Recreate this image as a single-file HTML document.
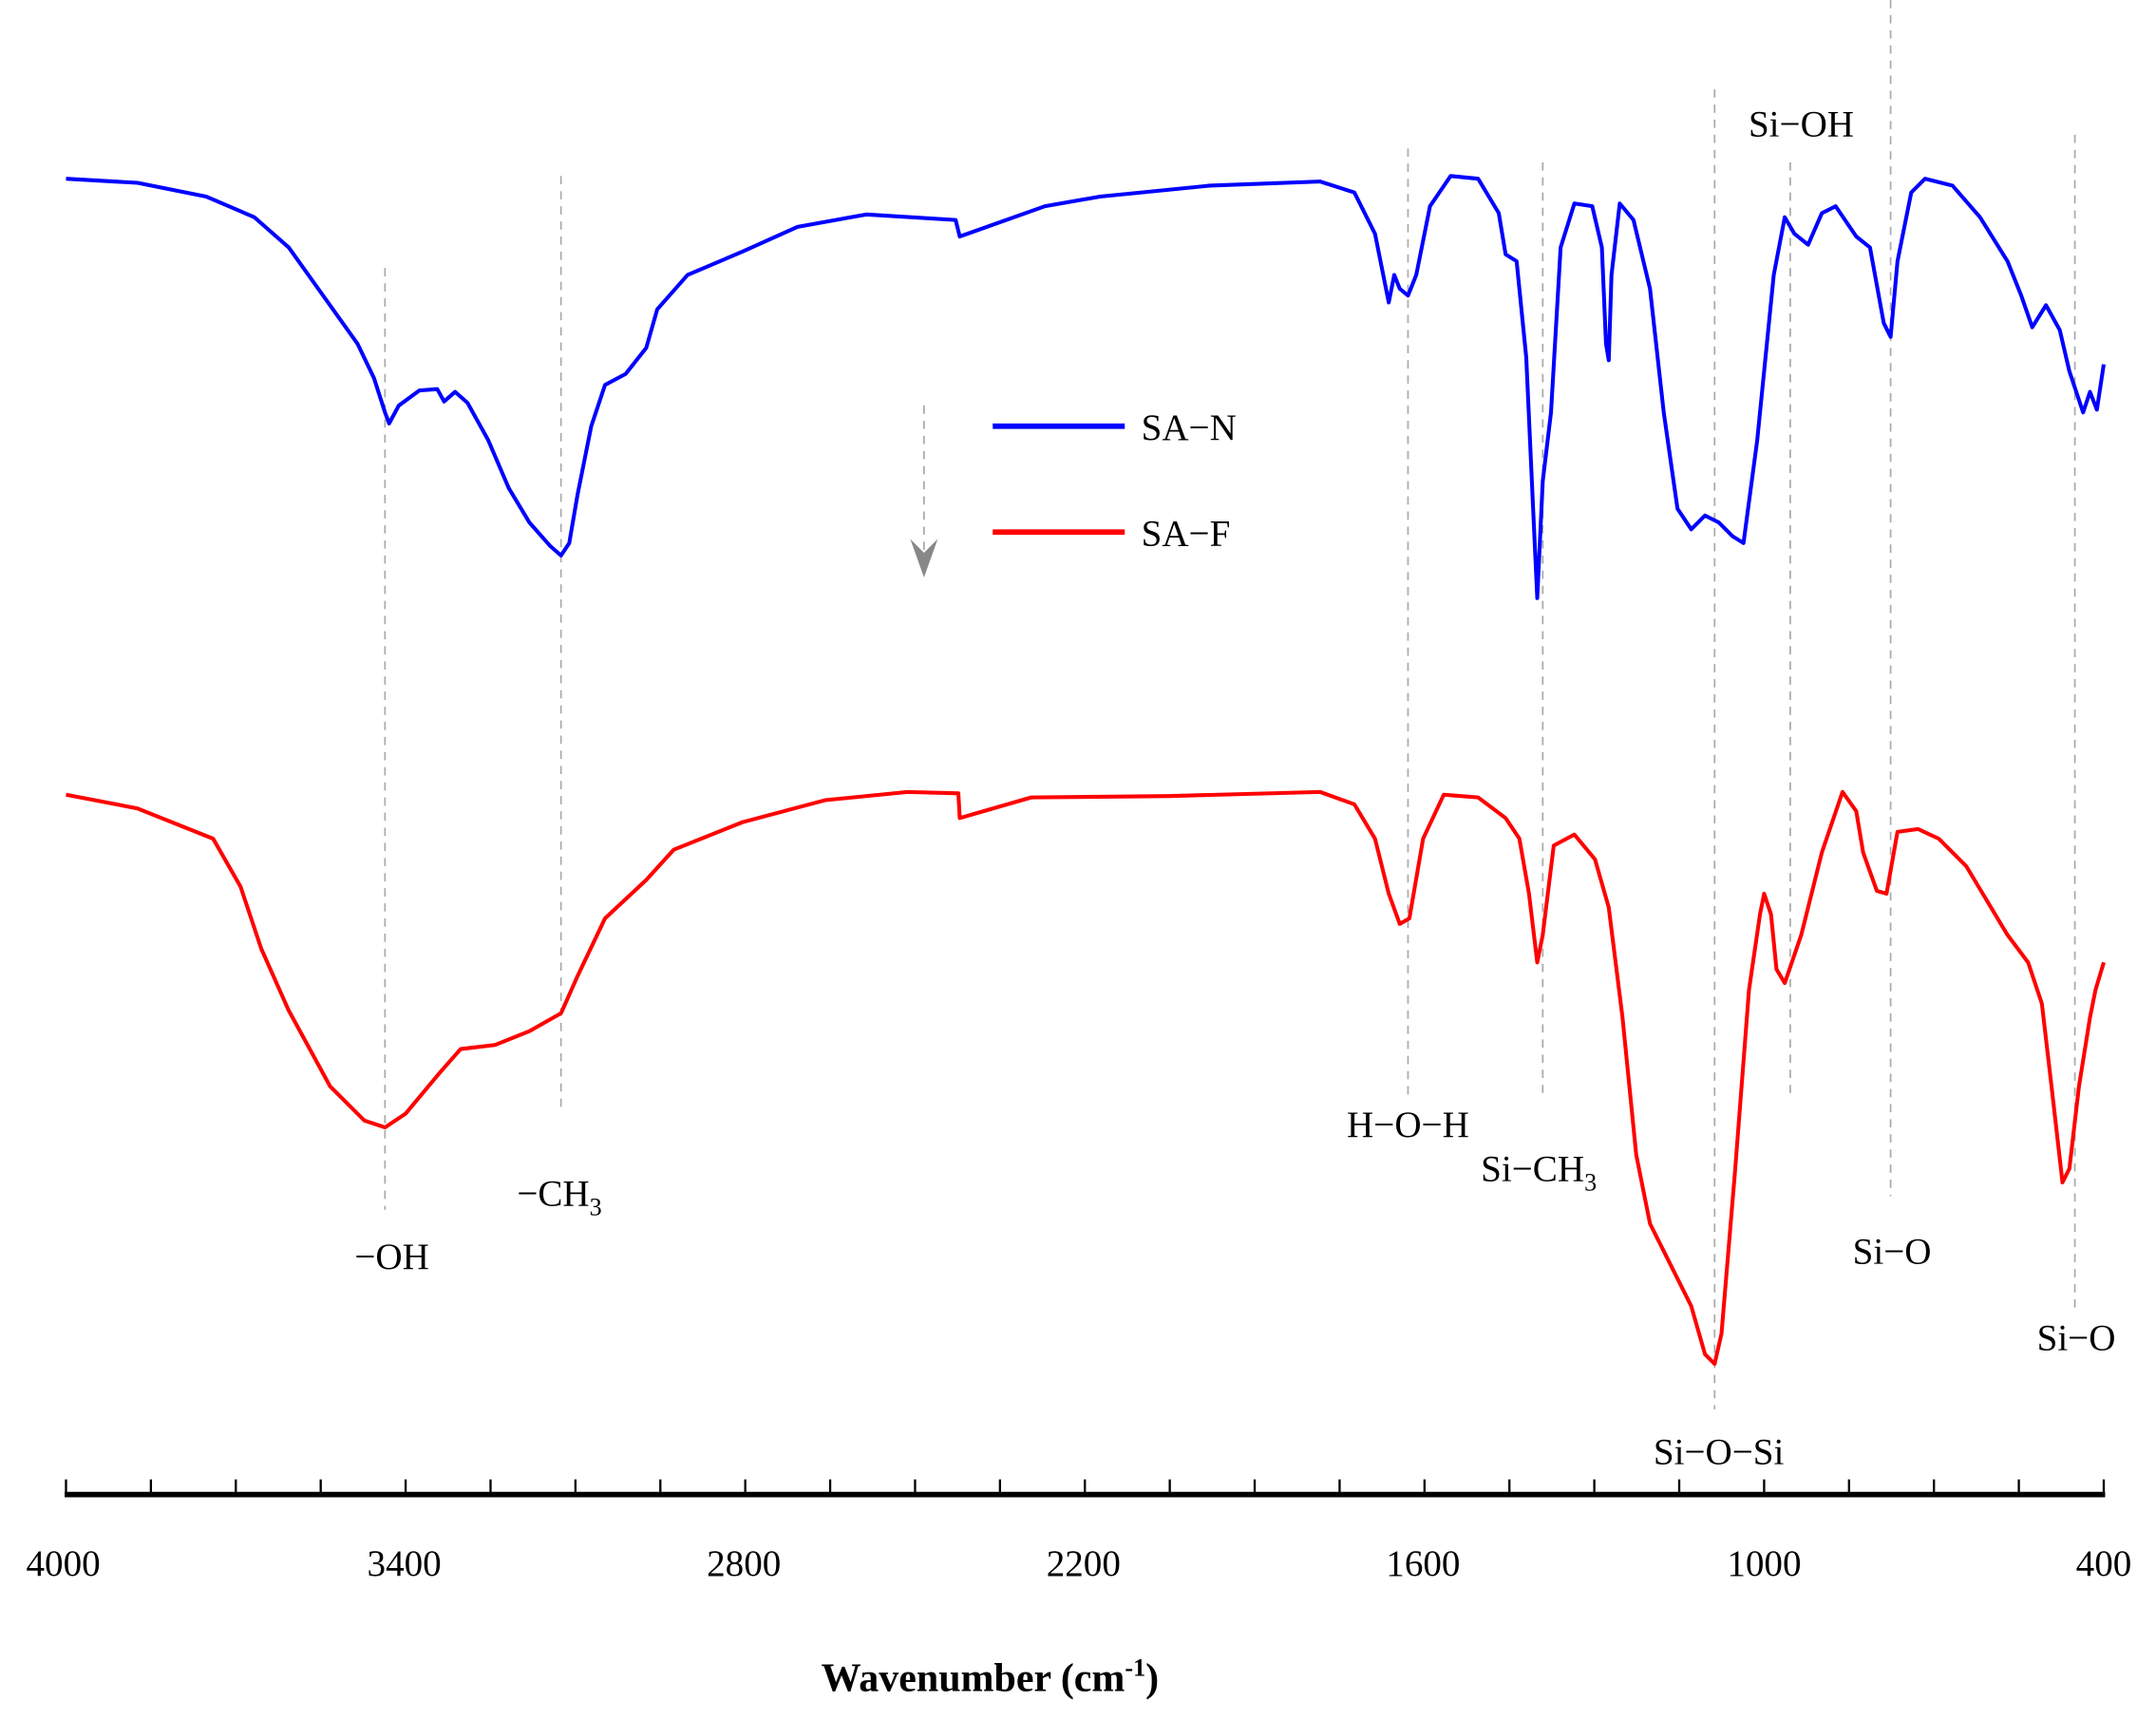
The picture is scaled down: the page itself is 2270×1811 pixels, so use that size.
<!DOCTYPE html>
<html><head><meta charset="utf-8"><style>html,body{margin:0;padding:0;background:#fff}svg{display:block}</style></head>
<body>
<svg width="2270" height="1811" viewBox="0 0 1568 1251" preserveAspectRatio="none" xmlns="http://www.w3.org/2000/svg" font-family="'Liberation Serif',serif">
<g stroke="#aaa" stroke-width="1.2" stroke-dasharray="6,5">
<line x1="280" y1="195" x2="280" y2="880"/>
<line x1="408" y1="128" x2="408" y2="810"/>
<line x1="1024" y1="108" x2="1024" y2="800"/>
<line x1="1122" y1="118" x2="1122" y2="800"/>
<line x1="1247" y1="65" x2="1247" y2="1025"/>
<line x1="1302" y1="118" x2="1302" y2="800"/>
<line x1="1375" y1="0" x2="1375" y2="870"/>
<line x1="1509" y1="98" x2="1509" y2="955"/>
<line x1="672" y1="295" x2="672" y2="400"/>
</g>
<path d="M662,392 L672,420 L682,392 L672,402 Z" fill="#888"/>
<polyline fill="none" stroke="#0000ff" stroke-width="2.8" stroke-linejoin="round" points="48,130 100,133 150,143 185,158 210,180 235,215 260,250 272,275 280,300 283,308 290,295 305,284 318,283 323,292 331,285 340,293 355,320 370,355 385,380 400,397 408,404 414,395 420,360 430,310 440,280 455,272 470,253 478,225 500,200 540,183 580,165 630,156 695,160 698,172 760,150 800,143 880,135 960,132 985,140 1000,170 1010,220 1014,200 1018,210 1024,215 1030,200 1040,150 1055,128 1075,130 1090,155 1095,185 1103,190 1110,260 1115,370 1118,435 1122,350 1128,300 1135,180 1145,148 1158,150 1165,180 1168,250 1170,262 1172,200 1178,148 1188,160 1200,210 1210,300 1220,370 1230,385 1240,375 1250,380 1260,390 1268,395 1278,320 1290,200 1298,158 1305,170 1315,178 1325,155 1335,150 1350,172 1360,180 1370,235 1375,245 1380,190 1390,140 1400,130 1420,135 1440,158 1460,190 1470,215 1478,238 1488,222 1498,240 1505,270 1515,300 1520,285 1525,298 1530,265"/>
<polyline fill="none" stroke="#ff0000" stroke-width="2.8" stroke-linejoin="round" points="48,578 100,588 155,610 175,645 190,690 210,735 240,790 265,815 280,820 295,810 320,780 335,763 360,760 385,750 408,737 420,710 440,668 470,640 490,618 540,598 600,582 660,576 697,577 698,595 750,580 850,579 960,576 985,585 1000,610 1010,650 1018,672 1025,668 1035,610 1050,578 1075,580 1095,595 1105,610 1112,650 1118,700 1122,680 1130,615 1145,607 1160,625 1170,660 1180,740 1190,840 1200,890 1215,920 1230,950 1240,985 1247,992 1252,970 1262,850 1272,720 1280,665 1283,650 1288,665 1292,705 1298,715 1310,680 1325,620 1340,576 1350,590 1355,620 1365,648 1372,650 1380,605 1395,603 1410,610 1430,630 1460,680 1475,700 1485,730 1492,790 1500,860 1505,850 1512,790 1520,740 1524,720 1530,700"/>
<line x1="722" y1="310" x2="818" y2="310" stroke="#0000ff" stroke-width="4"/>
<line x1="722" y1="387" x2="818" y2="387" stroke="#ff0000" stroke-width="4"/>
<g font-size="27" fill="#000">
<text x="830" y="320">SA−N</text>
<text x="830" y="397">SA−F</text>
<text x="285" y="923" text-anchor="middle">−OH</text>
<text x="376" y="877">−CH<tspan font-size="18" dy="7">3</tspan></text>
<text x="1024" y="827" text-anchor="middle">H−O−H</text>
<text x="1077" y="859">Si−CH<tspan font-size="18" dy="7">3</tspan></text>
<text x="1250" y="1065" text-anchor="middle">Si−O−Si</text>
<text x="1310" y="99" text-anchor="middle">Si−OH</text>
<text x="1376" y="919" text-anchor="middle">Si−O</text>
<text x="1510" y="982" text-anchor="middle">Si−O</text>
</g>
<line x1="47" y1="1087" x2="1531" y2="1087" stroke="#000" stroke-width="4"/>
<g stroke="#000" stroke-width="1.6">
<line x1="48" y1="1076" x2="48" y2="1087"/><line x1="109.75" y1="1076" x2="109.75" y2="1087"/><line x1="171.5" y1="1076" x2="171.5" y2="1087"/><line x1="233.25" y1="1076" x2="233.25" y2="1087"/><line x1="295" y1="1076" x2="295" y2="1087"/><line x1="356.75" y1="1076" x2="356.75" y2="1087"/><line x1="418.5" y1="1076" x2="418.5" y2="1087"/><line x1="480.25" y1="1076" x2="480.25" y2="1087"/><line x1="542" y1="1076" x2="542" y2="1087"/><line x1="603.75" y1="1076" x2="603.75" y2="1087"/><line x1="665.5" y1="1076" x2="665.5" y2="1087"/><line x1="727.25" y1="1076" x2="727.25" y2="1087"/><line x1="789" y1="1076" x2="789" y2="1087"/><line x1="850.75" y1="1076" x2="850.75" y2="1087"/><line x1="912.5" y1="1076" x2="912.5" y2="1087"/><line x1="974.25" y1="1076" x2="974.25" y2="1087"/><line x1="1036" y1="1076" x2="1036" y2="1087"/><line x1="1097.75" y1="1076" x2="1097.75" y2="1087"/><line x1="1159.5" y1="1076" x2="1159.5" y2="1087"/><line x1="1221.25" y1="1076" x2="1221.25" y2="1087"/><line x1="1283" y1="1076" x2="1283" y2="1087"/><line x1="1344.75" y1="1076" x2="1344.75" y2="1087"/><line x1="1406.5" y1="1076" x2="1406.5" y2="1087"/><line x1="1468.25" y1="1076" x2="1468.25" y2="1087"/><line x1="1530" y1="1076" x2="1530" y2="1087"/>
</g>
<g font-size="27" fill="#000" text-anchor="middle">
<text x="46" y="1146">4000</text><text x="294" y="1146">3400</text><text x="541" y="1146">2800</text><text x="788" y="1146">2200</text><text x="1035" y="1146">1600</text><text x="1283" y="1146">1000</text><text x="1530" y="1146">400</text>
</g>
<text x="720" y="1230" font-size="29" font-weight="bold" text-anchor="middle">Wavenumber (cm<tspan font-size="18" dy="-11">-1</tspan><tspan dy="11">)</tspan></text>
</svg>
</body></html>
